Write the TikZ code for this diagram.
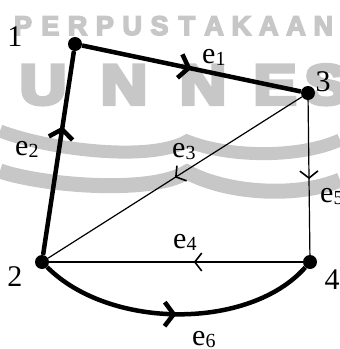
\documentclass[tikz,border=0pt]{standalone}
\usepackage{fontspec}
\usepackage{graphicx}
\setmainfont{Liberation Serif}
\newfontfamily\wmfont{Liberation Sans Bold}
\usepackage{tikz}
\usetikzlibrary{arrows.meta, decorations.markings}
\definecolor{wmgray}{gray}{0.78}
\newcommand{\edgelbl}[1]{e\raisebox{-2pt}{\fontsize{20}{20}\selectfont #1}}
\newcommand{\heavytext}[2]{\special{pdf:literal direct 2 Tr #1 w}#2\special{pdf:literal direct 0 Tr 1 w}}

\begin{document}
\begin{tikzpicture}[
  x=1pt, y=-1pt,
  vertex/.style={circle, fill=black, inner sep=0pt, minimum size=14pt},
  lbl/.style={font=\fontsize{30}{30}\selectfont, inner sep=0pt, anchor=base west},
  num/.style={font=\fontsize{30}{30}\selectfont, inner sep=0pt},
  heavy/.style={line width=4.5pt},
  light/.style={line width=1.2pt},
  fwd/.style={postaction={decorate}, decoration={markings,
      mark=at position #1 with {\arrow{Straight Barb[length=9pt, width=24pt]}}}},
  fwdthin/.style={postaction={decorate}, decoration={markings,
      mark=at position #1 with {\arrow[line width=1.6pt]{Straight Barb[length=7pt, width=18pt]}}}},
  wm/.style={text=wmgray, inner sep=0pt, anchor=base},
  band/.style={draw=wmgray, line width=#1}
]
  \useasboundingbox (0,0) rectangle (340,349);

  % watermark
  \foreach \ch [count=\i] in {P,E,R,P,U,S,T,A,K,A,A,N}{
    \node[wm, font=\wmfont\fontsize{27}{27}\selectfont]
      (wa\i) at ({23+27.3*(\i-1)},35) {\heavytext{1.5}{\ch}};
  }
  \foreach \ch/\x [count=\i] in {U/43, N/124, N/203, E/275, S/326}{
    \node[wm, font=\wmfont\fontsize{56}{56}\selectfont]
      (wb\i) at (\x,104) {\scalebox{1.15}[1]{\heavytext{4}{\ch}}};
  }
  \draw[band=13pt] (0,131) .. controls (50,150) and (150,162) .. (187,141)
    .. controls (230,158) and (300,158) .. (340,140);
  \draw[band=15pt] (0,171) .. controls (40,185) and (150,195) .. (187,172)
    .. controls (230,195) and (300,197) .. (340,180);

  % vertices
  \node[vertex] (v1) at (75,44) {};
  \node[vertex] (v3) at (308,93) {};
  \node[vertex] (v2) at (42,262) {};
  \node[vertex] (v4) at (310,262) {};

  \node[num] (n1) at (15,37) {1};
  \node[num] (n3) at (323,82) {3};
  \node[num] (n2) at (15,277) {2};
  \node[num] (n4) at (332,280) {4};

  % edges
  \draw[heavy, fwd=0.5] (v1) -- (v3);
  \draw[heavy, fwd=0.63] (v2) -- (v1);
  \draw[light, fwdthin=0.5] (v3) -- (v2);
  \draw[light, fwdthin=0.43] (v4) -- (v2);
  \draw[light, fwdthin=0.51] (v3) -- (v4);
  \draw[heavy, fwd=0.5] (v2) .. controls (110,330) and (250,330) .. (v4);

  \node[lbl] (e1) at (202,63) {\edgelbl{1}};
  \node[lbl] (e2) at (15,155) {\edgelbl{2}};
  \node[lbl] (e3) at (172,157) {\edgelbl{3}};
  \node[lbl] (e4) at (173,248) {\edgelbl{4}};
  \node[lbl] (e5) at (320,202) {\edgelbl{5}};
  \node[lbl] (e6) at (192,345) {\edgelbl{6}};
\end{tikzpicture}
\end{document}
